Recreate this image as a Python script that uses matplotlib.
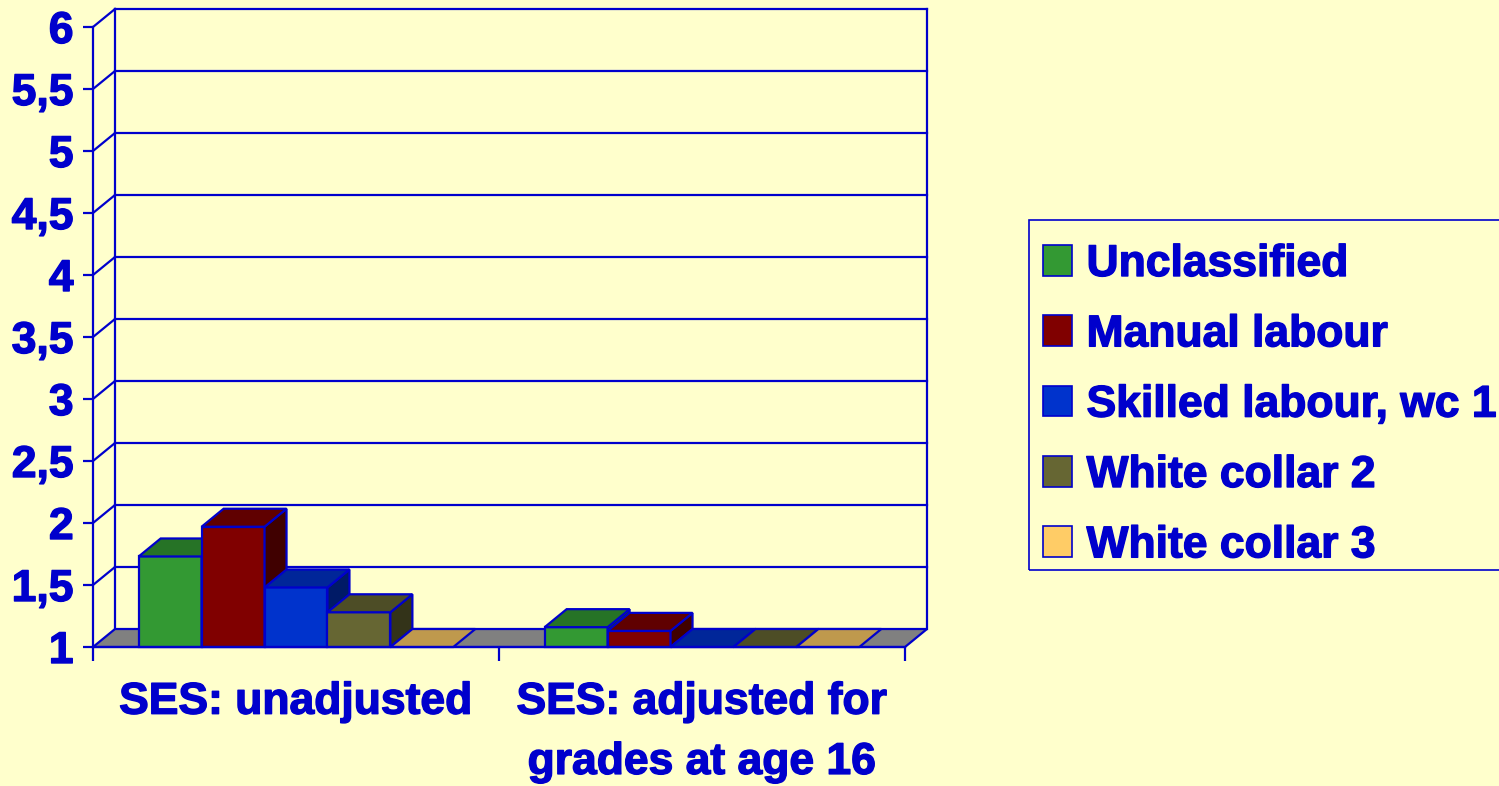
import matplotlib
matplotlib.use("Agg")
import matplotlib.pyplot as plt
from matplotlib.patches import Polygon, Patch, Rectangle
from matplotlib.ticker import FixedLocator
import matplotlib.patheffects as pe

# ---- data ----
categories = ["SES: unadjusted", "SES: adjusted for\ngrades at age 16"]
series = ["Unclassified", "Manual labour", "Skilled labour, wc 1", "White collar 2", "White collar 3"]
unclassified = [1.73, 1.16]
manual_labour = [1.97, 1.13]
skilled_labour = [1.48, 1.0]
white_collar_2 = [1.28, 1.0]
white_collar_3 = [1.0, 1.0]
yticks = [1, 1.5, 2, 2.5, 3, 3.5, 4, 4.5, 5, 5.5, 6]
ytick_labels = ["1", "1,5", "2", "2,5", "3", "3,5", "4", "4,5", "5", "5,5", "6"]

values = [unclassified, manual_labour, skilled_labour, white_collar_2, white_collar_3]

# ---- styles ----
BG = "#FFFFCC"
BLUE = "#0000CC"
front_cols = ["#339933", "#800000", "#0033CC", "#666633", "#FFCC66"]
top_cols = ["#267326", "#600000", "#002699", "#4D4D26", "#BF994D"]
side_cols = ["#1A4D1A", "#400000", "#001A66", "#333319", "#806633"]
FLOOR = "#808080"
FS = 32
heavy = [pe.withStroke(linewidth=1.0, foreground=BLUE)]

plt.rcParams["font.family"] = ["Liberation Sans", "DejaVu Sans"]
plt.rcParams["font.weight"] = "bold"

W, H = 1499, 786
fig = plt.figure(figsize=(W / 100, H / 100), dpi=100, facecolor=BG)
x0_px, x1_px, y_bot_px, y_top_px = 93, 905, 647, 27
ax = fig.add_axes([x0_px / W, (H - y_bot_px) / H, (x1_px - x0_px) / W, (y_bot_px - y_top_px) / H])
ax.set_facecolor("none")
ax.set_xlim(0, 2)
ax.set_ylim(1, 6)

px_x = (x1_px - x0_px) / 2.0   # px per x unit
px_y = (y_bot_px - y_top_px) / 5.0  # px per y unit
DX = 22 / px_x
DY = 18 / px_y
lw = 1.6

# back wall & gridlines
for yv in yticks[1:]:
    ax.plot([DX, 2 + DX], [yv + DY, yv + DY], color=BLUE, lw=lw, clip_on=False, zorder=1)
    ax.plot([0, DX], [yv, yv + DY], color=BLUE, lw=lw, clip_on=False, zorder=1)
ax.plot([DX, DX], [1 + DY, 6 + DY], color=BLUE, lw=lw, clip_on=False, zorder=1)
ax.plot([2 + DX, 2 + DX], [1 + DY, 6 + DY], color=BLUE, lw=lw, clip_on=False, zorder=1)

# floor
ax.add_patch(Polygon([(0, 1), (2, 1), (2 + DX, 1 + DY), (DX, 1 + DY)], closed=True,
                     facecolor=FLOOR, edgecolor=BLUE, lw=lw, clip_on=False, zorder=2))

# bars
n = len(series)
bw = 0.155
start = 0.5 - n * bw / 2
for c in range(len(categories)):
    for s in range(n):
        v = values[s][c]
        xl = c + start + s * bw
        xr = xl + bw
        z = 3 + c * 10 + s
        if v > 1:
            ax.bar(xl, v - 1, bottom=1, width=bw, align="edge", color=front_cols[s],
                   edgecolor=BLUE, lw=lw, zorder=z, clip_on=False)
            ax.add_patch(Polygon([(xr, 1), (xr + DX, 1 + DY), (xr + DX, v + DY), (xr, v)], closed=True,
                                 facecolor=side_cols[s], edgecolor=BLUE, lw=lw, zorder=z, clip_on=False))
        ax.add_patch(Polygon([(xl, v), (xr, v), (xr + DX, v + DY), (xl + DX, v + DY)], closed=True,
                             facecolor=top_cols[s], edgecolor=BLUE, lw=lw, zorder=z, clip_on=False))

# axes styling
for sp in ["top", "right"]:
    ax.spines[sp].set_visible(False)
for sp in ["left", "bottom"]:
    ax.spines[sp].set_color(BLUE)
    ax.spines[sp].set_linewidth(lw)
    ax.spines[sp].set_zorder(30)

ax.yaxis.set_major_locator(FixedLocator(yticks))
ax.set_yticklabels(ytick_labels)
ax.tick_params(axis="y", direction="out", length=7, width=lw, color=BLUE, labelcolor=BLUE,
               labelsize=FS, pad=7)

ax.xaxis.set_major_locator(FixedLocator([0, 1, 2]))
ax.set_xticklabels(["", "", ""])
ax.xaxis.set_minor_locator(FixedLocator([0.5, 1.5]))
ax.set_xticklabels(categories, minor=True)
ax.tick_params(axis="x", which="major", direction="out", length=10, width=lw, color=BLUE)
ax.tick_params(axis="x", which="minor", length=0, labelcolor=BLUE, labelsize=FS, pad=25)
for t in ax.get_xticklabels(minor=True) + ax.get_yticklabels():
    t.set_fontweight("bold")
    t.set_path_effects(heavy)
for t in ax.get_xticklabels(minor=True):
    t.set_linespacing(1.6)

# legend frame (extends past the right edge of the figure)
fig.patches.append(Rectangle((1029 / W, (H - 570) / H), 500 / W, 350 / H, transform=fig.transFigure,
                             facecolor="none", edgecolor=BLUE, lw=1.2, zorder=0))

# legend
handles = [Patch(facecolor=front_cols[i], edgecolor=BLUE, lw=1.2) for i in range(n)]
leg = fig.legend(handles, series, loc="upper left",
                 bbox_to_anchor=(1043 / W, (H - 244) / H), bbox_transform=fig.transFigure,
                 prop={"size": FS, "weight": "bold"}, labelcolor=BLUE,
                 frameon=False,
                 handlelength=0.65, handleheight=0.68, handletextpad=0.33,
                 labelspacing=0.66, borderpad=0, borderaxespad=0)
for t in leg.get_texts():
    t.set_path_effects(heavy)

fig.savefig("out.png", dpi=100, facecolor=BG)
